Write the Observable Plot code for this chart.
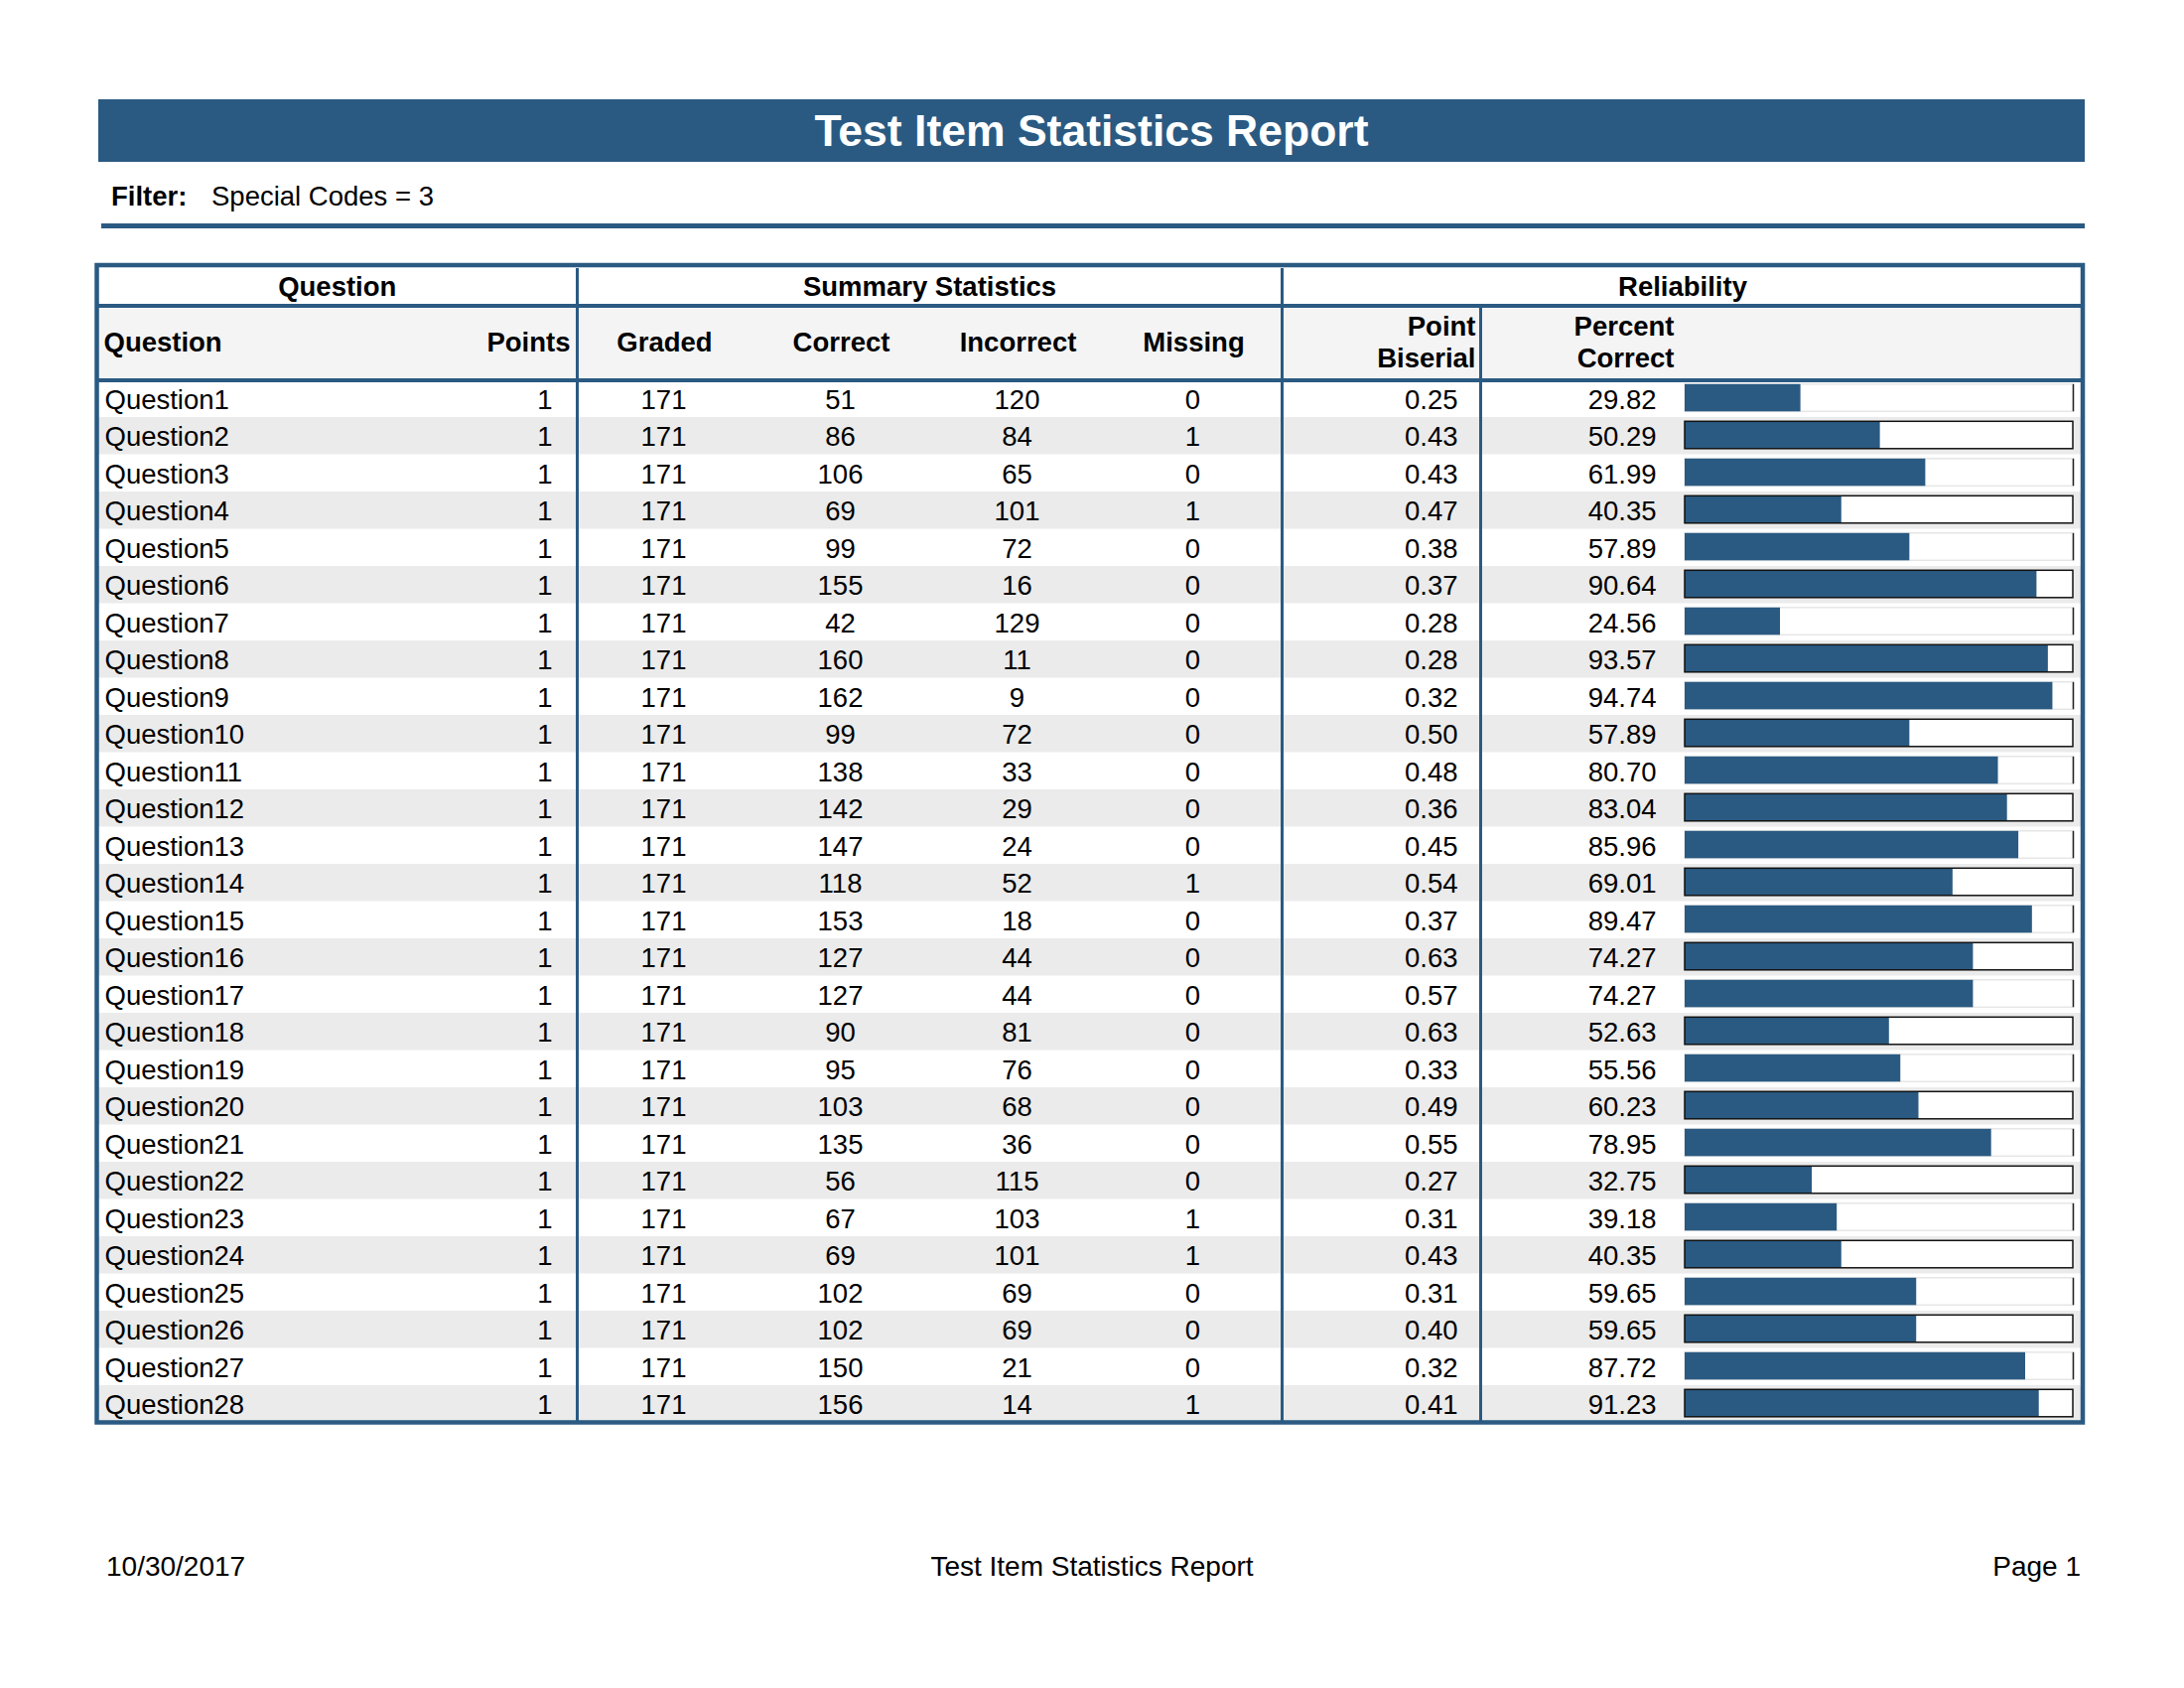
<!DOCTYPE html>
<html>
<head>
<meta charset="utf-8">
<script src="https://cdn.jsdelivr.net/npm/d3@7"></script>
<script src="https://cdn.jsdelivr.net/npm/@observablehq/plot@0.6"></script>
<style>
  html, body { margin: 0; padding: 0; background: #fff; }
  #page { position: relative; width: 2200px; height: 1700px; font-family: "Liberation Sans", Arial, Helvetica, sans-serif; color: #000; overflow: hidden; }
  .abs { position: absolute; }
  #titlebar { left: 99px; top: 100px; width: 2001px; height: 63px; background: #2a5a82; color: #fff; font-weight: bold; font-size: 44.5px; line-height: 63px; text-align: center; }
  .filt { top: 178px; height: 40px; line-height: 40px; font-size: 27.5px; white-space: nowrap; }
  #filterline { left: 102px; top: 225px; width: 1998px; height: 4.5px; background: #2a5a82; }
  .foot { top: 1558px; height: 40px; line-height: 40px; font-size: 28px; white-space: nowrap; }
  #tableA { left: 0; top: 255px; }
  #tableB { left: 1690px; top: 255px; }
</style>
</head>
<body>
<div id="page">
  <div id="titlebar" class="abs">Test Item Statistics Report</div>
  <div class="abs filt" style="left:112px;font-weight:bold;">Filter:</div>
  <div class="abs filt" style="left:213px;">Special Codes = 3</div>
  <div id="filterline" class="abs"></div>
  <div id="tableA" class="abs"></div>
  <div id="tableB" class="abs"></div>
  <div class="abs foot" style="left:107px;">10/30/2017</div>
  <div class="abs foot" style="left:0;width:2200px;text-align:center;">Test Item Statistics Report</div>
  <div class="abs foot" style="right:104px;">Page 1</div>
</div>
<script>
// ---------------- DATA ----------------
const questions = ["Question1","Question2","Question3","Question4","Question5","Question6","Question7","Question8","Question9","Question10",
  "Question11","Question12","Question13","Question14","Question15","Question16","Question17","Question18","Question19","Question20",
  "Question21","Question22","Question23","Question24","Question25","Question26","Question27","Question28"];
const points = [1,1,1,1,1,1,1,1,1,1,1,1,1,1,1,1,1,1,1,1,1,1,1,1,1,1,1,1];
const graded = [171,171,171,171,171,171,171,171,171,171,171,171,171,171,171,171,171,171,171,171,171,171,171,171,171,171,171,171];
const correct = [51,86,106,69,99,155,42,160,162,99,138,142,147,118,153,127,127,90,95,103,135,56,67,69,102,102,150,156];
const incorrect = [120,84,65,101,72,16,129,11,9,72,33,29,24,52,18,44,44,81,76,68,36,115,103,101,69,69,21,14];
const missing = [0,1,0,1,0,0,0,0,0,0,0,0,0,1,0,0,0,0,0,0,0,0,1,1,0,0,0,1];
const pointBiserial = [0.25,0.43,0.43,0.47,0.38,0.37,0.28,0.28,0.32,0.50,0.48,0.36,0.45,0.54,0.37,0.63,0.57,0.63,0.33,0.49,0.55,0.27,0.31,0.43,0.31,0.40,0.32,0.41];
const percentCorrect = [29.82,50.29,61.99,40.35,57.89,90.64,24.56,93.57,94.74,57.89,80.70,83.04,85.96,69.01,89.47,74.27,74.27,52.63,55.56,60.23,78.95,32.75,39.18,40.35,59.65,59.65,87.72,91.23];

const groupLabels = ["Question", "Summary Statistics", "Reliability"];
const columnLabels = ["Question", "Points", "Graded", "Correct", "Incorrect", "Missing", "Point\nBiserial", "Percent\nCorrect"];
const columnFields = ["q", "points", "graded", "correct", "incorrect", "missing", "pb", "pctLabel"];

// ---------------- LAYOUT / STYLE ----------------
const BLUE = "#2a5a82";
const FONT = "'Liberation Sans', Arial, Helvetica, sans-serif";
const FS = 27.5;
const L = 97.5, R = 2098;                 // table outer edges (px)
const groupSpans = [[97.5, 581], [581, 1291], [1291, 2098]];
const colLayout = [                       // data x, header x, anchor
  {x: 105, hx: 104, anchor: "start"},
  {x: 556, hx: 574, anchor: "end"},
  {x: 668, hx: 669, anchor: "middle"},
  {x: 846, hx: 847, anchor: "middle"},
  {x: 1024, hx: 1025, anchor: "middle"},
  {x: 1201, hx: 1202, anchor: "middle"},
  {x: 1468, hx: 1486, anchor: "end"},
  {x: 1668, hx: 1686, anchor: "end"}
];
const dividers = [581, 1291];
const innerDivider = 1491;
const HEAD = 3;                            // header occupies 3 row units
const NROWS = HEAD + questions.length;

const rows = questions.map((q, i) => ({
  i, q,
  points: points[i], graded: graded[i], correct: correct[i], incorrect: incorrect[i], missing: missing[i],
  pb: pointBiserial[i].toFixed(2),
  pct: percentCorrect[i], pctLabel: percentCorrect[i].toFixed(2)
}));
const yTop = d => d.i + HEAD;
const yBot = d => d.i + HEAD + 1;
const yMid = d => d.i + HEAD + 0.5;
const grayRows = rows.filter(d => d.i % 2 === 1);
const whiteRows = rows.filter(d => d.i % 2 === 0);
const groups = groupLabels.map((label, k) => ({label, x1: groupSpans[k][0], x2: groupSpans[k][1]}));
const headers = columnLabels.map((label, k) => ({label, ...colLayout[k]}));

const common = {
  height: 1190, marginTop: 15, marginBottom: 12.5,
  y: {domain: [0, NROWS], reverse: true, axis: null}
};

// ---------------- TABLE (text, stripes, rules) ----------------
const tableA = Plot.plot({
  ...common,
  width: 2200, marginLeft: 0, marginRight: 0,
  x: {domain: [0, 2200], axis: null},
  style: {fontFamily: FONT, background: "white", color: "black"},
  marks: [
    Plot.rect(grayRows, {x1: L, x2: R, y1: yTop, y2: yBot, fill: "#ebebeb"}),
    Plot.rect([0], {x1: L, x2: R, y1: 1, y2: HEAD, fill: "#f4f4f4"}),
    Plot.ruleX(dividers, {stroke: BLUE, strokeWidth: 3}),
    Plot.ruleX([innerDivider], {y1: 1, y2: NROWS, stroke: BLUE, strokeWidth: 3}),
    Plot.ruleY([1, HEAD], {x1: L, x2: R, stroke: BLUE, strokeWidth: 4}),
    Plot.rect([0], {x1: L, x2: R, y1: 0, y2: NROWS, insetTop: -3, fill: "none", stroke: BLUE, strokeWidth: 4.5}),
    Plot.text(groups, {x: g => (g.x1 + g.x2) / 2, y: 0.5, text: "label", fontWeight: "bold", fontSize: FS}),
    ...headers.map(h => Plot.text([h], {x: "hx", y: 1.95, text: "label", textAnchor: h.anchor, fontWeight: "bold", fontSize: FS, lineHeight: 1.17})),
    ...columnFields.map((f, k) => Plot.text(rows, {x: colLayout[k].x, y: yMid, dy: 1, text: f, textAnchor: colLayout[k].anchor, fontSize: FS}))
  ]
});
document.getElementById("tableA").appendChild(tableA);

// ---------------- PERCENT-CORRECT BARS ----------------
const inset = {insetTop: 4.3, insetBottom: 5.7};
const tableB = Plot.plot({
  ...common,
  width: 410, marginLeft: 7, marginRight: 12,
  x: {domain: [0, 100], axis: null},
  style: {background: "none"},
  marks: [
    Plot.rect(whiteRows, {x1: 0, x2: 100, y1: yTop, y2: yBot, ...inset, fill: "white", stroke: "#e6e6e6", strokeWidth: 1.5}),
    Plot.rect(grayRows, {x1: 0, x2: 100, y1: yTop, y2: yBot, ...inset, fill: "white"}),
    Plot.rect(rows, {x1: 0, x2: "pct", y1: yTop, y2: yBot, ...inset, fill: BLUE}),
    Plot.rect(grayRows, {x1: 0, x2: 100, y1: yTop, y2: yBot, ...inset, fill: "none", stroke: "#111", strokeWidth: 1.5}),
    Plot.ruleX(whiteRows, {x: 100, y1: yTop, y2: yBot, ...inset, stroke: "#222", strokeWidth: 1.5})
  ]
});
document.getElementById("tableB").appendChild(tableB);
</script>
</body>
</html>
